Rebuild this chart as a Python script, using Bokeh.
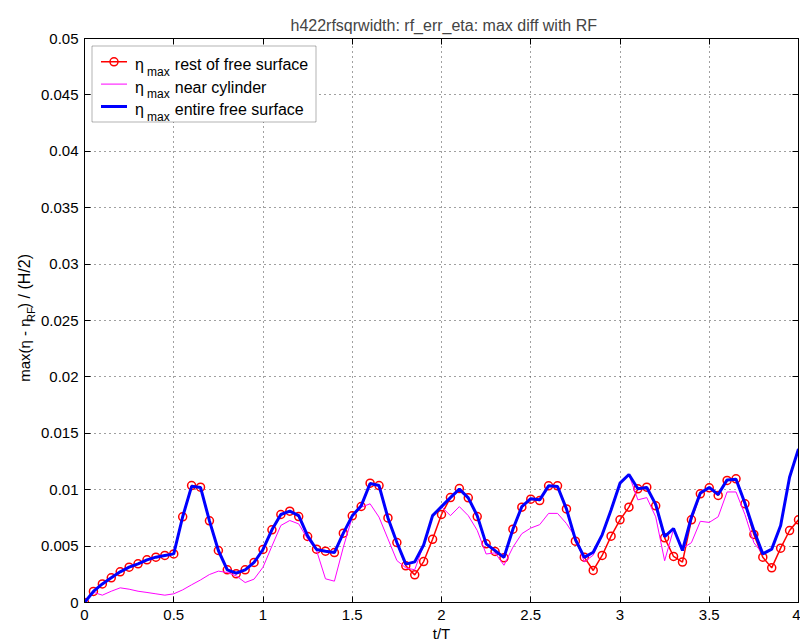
import math
from bokeh.plotting import figure
from bokeh.layouts import row
from bokeh.models import LinearAxis, FixedTicker, Label, BoxAnnotation, Range1d
from bokeh.embed import file_html
from bokeh.resources import INLINE

# ---------------- data ----------------
t = [0.0, 0.05, 0.1, 0.15, 0.2, 0.25, 0.3, 0.35, 0.4, 0.45, 0.5, 0.55, 0.6, 0.65, 0.7, 0.75,
     0.8, 0.85, 0.9, 0.95, 1.0, 1.05, 1.1, 1.15, 1.2, 1.25, 1.3, 1.35, 1.4, 1.45, 1.5, 1.55,
     1.6, 1.65, 1.7, 1.75, 1.8, 1.85, 1.9, 1.95, 2.0, 2.05, 2.1, 2.15, 2.2, 2.25, 2.3, 2.35,
     2.4, 2.45, 2.5, 2.55, 2.6, 2.65, 2.7, 2.75, 2.8, 2.85, 2.9, 2.95, 3.0, 3.05, 3.1, 3.15,
     3.2, 3.25, 3.3, 3.35, 3.4, 3.45, 3.5, 3.55, 3.6, 3.65, 3.7, 3.75, 3.8, 3.85, 3.9, 3.95, 4.0]

eta_rest = [0.0, 0.00098, 0.00165, 0.00219, 0.00272, 0.00313, 0.00343, 0.00378, 0.00402, 0.00417, 0.00431,
            0.0076, 0.01037, 0.01022, 0.00724, 0.00461, 0.0029, 0.00254, 0.0029, 0.00355, 0.0047,
            0.00644, 0.0078, 0.0081, 0.00762, 0.00585, 0.00473, 0.00455, 0.00443, 0.00615, 0.00768,
            0.00851, 0.01058, 0.01037, 0.0075, 0.00532, 0.00325, 0.00245, 0.00363, 0.0056, 0.0078,
            0.0093, 0.0101, 0.00928, 0.00762, 0.0052, 0.00452, 0.00396, 0.0065, 0.00845, 0.00916,
            0.00904, 0.01034, 0.01034, 0.0083, 0.00544, 0.00402, 0.00284, 0.00417, 0.00588, 0.00733,
            0.00845, 0.01008, 0.01022, 0.00857, 0.00573, 0.00408, 0.00358, 0.00733, 0.00963, 0.01017,
            0.00949, 0.01082, 0.01096, 0.00875, 0.00603, 0.00402, 0.00307, 0.00482, 0.00638, 0.00733]

eta_near = [0.0, 0.0009, 0.00065, 0.001, 0.0013, 0.00118, 0.001, 0.00089, 0.00077, 0.00065, 0.00077,
            0.00112, 0.00157, 0.002, 0.00248, 0.00278, 0.00266, 0.00236, 0.00177, 0.00207, 0.00313,
            0.005, 0.00683, 0.00727, 0.00697, 0.00564, 0.00461, 0.0021, 0.00189, 0.0049, 0.00757,
            0.00845, 0.00875, 0.00757, 0.00564, 0.00372, 0.00307, 0.0029, 0.0051, 0.0077, 0.0085,
            0.0077, 0.0085, 0.0077, 0.0064, 0.0043, 0.0044, 0.0033, 0.0049, 0.0061, 0.0066,
            0.0069, 0.0079, 0.0079, 0.007, 0.0058, 0.0036, 0.0042, 0.006, 0.0082, 0.01058,
            0.01135, 0.0091, 0.0093, 0.0076, 0.0037, 0.0065, 0.0048, 0.0053, 0.0072, 0.0071,
            0.0076, 0.0098, 0.0098, 0.0078, 0.0053, 0.0043, 0.0047, 0.00683, 0.01111, 0.01362]

eta_entire = [0.0, 0.00098, 0.00165, 0.00219, 0.00272, 0.00313, 0.00343, 0.00378, 0.00402, 0.00417, 0.00431,
              0.0076, 0.0103, 0.0102, 0.00724, 0.00461, 0.0029, 0.0026, 0.0029, 0.00355, 0.0047,
              0.00644, 0.0078, 0.0081, 0.0077, 0.0059, 0.0047, 0.00455, 0.00443, 0.00615, 0.00768,
              0.00857, 0.01055, 0.01037, 0.0075, 0.00532, 0.0034, 0.0036, 0.0051, 0.0077, 0.0085,
              0.0093, 0.01005, 0.00928, 0.0077, 0.0052, 0.0046, 0.004, 0.0065, 0.0085, 0.0092,
              0.0091, 0.01034, 0.01028, 0.0083, 0.0056, 0.004, 0.00446, 0.006, 0.0082, 0.01058,
              0.01135, 0.01008, 0.0102, 0.0087, 0.00585, 0.00656, 0.00461, 0.00757, 0.0097, 0.0102,
              0.00957, 0.01087, 0.01093, 0.0088, 0.00638, 0.00431, 0.00473, 0.00683, 0.01111, 0.01362]

x_ticks = [0, 0.5, 1, 1.5, 2, 2.5, 3, 3.5, 4]
x_tick_labels = ["0", "0.5", "1", "1.5", "2", "2.5", "3", "3.5", "4"]
y_ticks = [0, 0.005, 0.01, 0.015, 0.02, 0.025, 0.03, 0.035, 0.04, 0.045, 0.05]
y_tick_labels = ["0", "0.005", "0.01", "0.015", "0.02", "0.025", "0.03", "0.035", "0.04", "0.045", "0.05"]

series_labels = ["rest of free surface", "near cylinder", "entire free surface"]
title_text = "h422rfsqrwidth: rf_err_eta: max diff with RF"
ylabel_parts = ["max(η - η", "RF", ") / (H/2)"]

# ---------------- layout ----------------
W, H = 800, 643
LABEL_W = 36                      # strip on the left holding the y-axis label
X_MIN, X_MAX, Y_MIN, Y_MAX = 0, 4, 0, 0.05
FRAME_L, FRAME_T, FRAME_W, FRAME_H = 84, 38, 714, 564
FONT = "Liberation Sans"


def sx(px):
    """canvas pixel x -> data x of the main plot"""
    return X_MIN + (px - FRAME_L) / FRAME_W * (X_MAX - X_MIN)


def sy(py):
    """canvas pixel y -> data y of the main plot"""
    return Y_MIN + (FRAME_T + FRAME_H - py) / FRAME_H * (Y_MAX - Y_MIN)


# ---- left strip with the y-axis label (pixel coordinates, y downwards) ----
lf = figure(width=LABEL_W, height=H, x_range=Range1d(0, LABEL_W), y_range=Range1d(H, 0),
            output_backend="svg", toolbar_location=None, min_border=0,
            outline_line_color=None, background_fill_color="white", border_fill_color="white")
lf.axis.visible = False
lf.grid.visible = False

ylab_start = 392
ylab_specs = [(23.5, 0.0, "15px"), (30.5, 68.0, "11.5px"), (23.5, 84.0, "16px")]
for txt, (bx, off, fs) in zip(ylabel_parts, ylab_specs):
    lf.add_layout(Label(x=bx, y=ylab_start - off, text=txt, angle=math.pi / 2,
                        text_align="left", text_baseline="alphabetic",
                        text_font=FONT, text_font_size=fs, text_color="black"))

# ---- main plot ----
p = figure(frame_width=FRAME_W, frame_height=FRAME_H,
           x_range=Range1d(X_MIN, X_MAX), y_range=Range1d(Y_MIN, Y_MAX),
           output_backend="svg", toolbar_location=None,
           min_border_left=FRAME_L - LABEL_W, min_border_right=2, min_border_top=FRAME_T,
           min_border_bottom=H - FRAME_T - FRAME_H,
           background_fill_color="white", border_fill_color="white",
           x_axis_label="t/T")

p.title.text = title_text
p.title.text_font = FONT
p.title.text_font_size = "16px"
p.title.text_font_style = "normal"
p.title.align = "left"
p.title.offset = 206
p.title.standoff = 10

p.outline_line_color = "black"
p.outline_line_width = 1

xt = FixedTicker(ticks=x_ticks)
yt = FixedTicker(ticks=y_ticks)

for ax in p.xaxis:
    ax.ticker = xt
    ax.major_label_overrides = {v: s for v, s in zip(x_ticks, x_tick_labels)}
for ax in p.yaxis:
    ax.ticker = yt
    ax.major_label_overrides = {v: s for v, s in zip(y_ticks, y_tick_labels)}

for ax in list(p.xaxis) + list(p.yaxis):
    ax.major_tick_in = 6
    ax.major_tick_out = 0
    ax.minor_tick_in = 0
    ax.minor_tick_out = 0
    ax.axis_line_color = "black"
    ax.major_tick_line_color = "black"
    ax.major_label_text_font = FONT
    ax.major_label_text_font_size = "15px"
    ax.major_label_text_color = "black"
    ax.axis_label_text_font = FONT
    ax.axis_label_text_font_size = "15px"
    ax.axis_label_text_font_style = "normal"
    ax.axis_label_text_color = "black"

p.xaxis.major_label_standoff = 7
p.xaxis.axis_label_standoff = 2
p.yaxis.major_label_standoff = 6

# top and right box axes: inward ticks only
top_ax = LinearAxis(ticker=xt, major_tick_in=6, major_tick_out=0, minor_tick_in=0, minor_tick_out=0,
                    major_label_overrides={v: "" for v in x_ticks}, major_label_text_font_size="0px",
                    major_label_standoff=0, axis_line_color="black")
right_ax = LinearAxis(ticker=yt, major_tick_in=6, major_tick_out=0, minor_tick_in=0, minor_tick_out=0,
                      major_label_overrides={v: "" for v in y_ticks}, major_label_text_font_size="0px",
                      major_label_standoff=0, axis_line_color="black")
p.add_layout(top_ax, "above")
p.add_layout(right_ax, "right")

for g in p.grid:
    g.grid_line_color = "#404040"
    g.grid_line_dash = "1 4"
    g.grid_line_width = 1
p.xgrid.ticker = xt
p.ygrid.ticker = yt

# ---------------- series ----------------
p.line(t, eta_rest, line_color="#ff0000", line_width=1.5)
p.scatter(t, eta_rest, marker="circle", size=8, fill_color=None, line_color="#ff0000", line_width=1.5)
p.line(t, eta_near, line_color="#ff00ff", line_width=1)
p.line(t, eta_entire, line_color="#0000ff", line_width=3)

# ---------------- legend ----------------
p.add_layout(BoxAnnotation(left=sx(91.5), right=sx(315.5), top=sy(45.5), bottom=sy(121.5),
                           fill_color="white", fill_alpha=1.0, line_color="black", line_width=1,
                           level="underlay"))

rows = [64.3, 86.6, 109.0]
styles = [("#ff0000", 1.5, True), ("#ff00ff", 1, False), ("#0000ff", 3, False)]
for b, (col, lw, mark), lab in zip(rows, styles, series_labels):
    ly = sy(b - 3)
    p.line([sx(100.5), sx(126.5)], [ly, ly], line_color=col, line_width=lw)
    if mark:
        p.scatter([sx(113.5)], [ly], marker="circle", size=8, fill_color=None,
                  line_color=col, line_width=1.5)
    p.add_layout(Label(x=sx(134.5), y=sy(b), text="η", text_align="left", text_baseline="alphabetic",
                       text_font=FONT, text_font_size="16px", text_color="black"))
    p.add_layout(Label(x=sx(146.5), y=sy(b + 7), text="max", text_align="left", text_baseline="alphabetic",
                       text_font=FONT, text_font_size="12px", text_color="black"))
    p.add_layout(Label(x=sx(174.3), y=sy(b), text=lab, text_align="left", text_baseline="alphabetic",
                       text_font=FONT, text_font_size="16px", text_color="black"))

layout = row(lf, p)
open("out.html", "w").write(file_html(layout, INLINE))
